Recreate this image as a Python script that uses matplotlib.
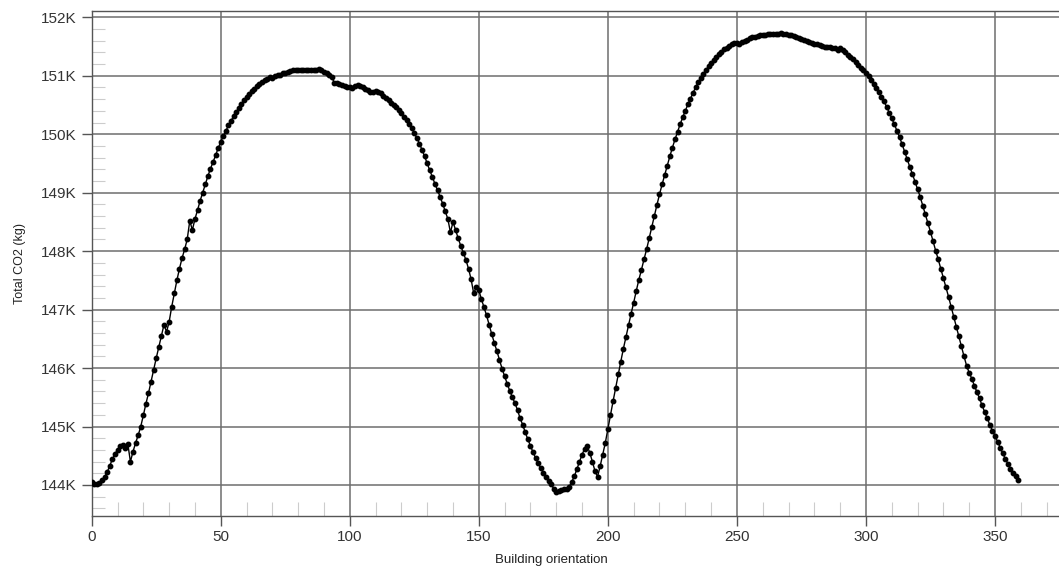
import matplotlib
matplotlib.use("Agg")
import matplotlib.pyplot as plt
from matplotlib.ticker import MultipleLocator, FuncFormatter

plt.rcParams['font.family'] = ['Liberation Sans', 'DejaVu Sans']

# building orientation in degrees, one run per degree
orientation = list(range(0, 360))

# total CO2 in thousands of kg
co2_k = [
    144.05, 144.02, 144.02, 144.04, 144.08, 144.14, 144.22, 144.33, 144.44, 144.53,
    144.60, 144.66, 144.69, 144.64, 144.70, 144.40, 144.57, 144.72, 144.85, 145.00,
    145.19, 145.39, 145.57, 145.77, 145.97, 146.17, 146.36, 146.55, 146.74, 146.62,
    146.79, 147.05, 147.28, 147.50, 147.70, 147.88, 148.03, 148.20, 148.52, 148.36,
    148.55, 148.70, 148.86, 149.00, 149.14, 149.28, 149.41, 149.52, 149.64, 149.76,
    149.87, 149.97, 150.06, 150.15, 150.23, 150.31, 150.38, 150.45, 150.52, 150.58,
    150.64, 150.69, 150.74, 150.78, 150.82, 150.86, 150.89, 150.92, 150.95, 150.98,
    150.97, 151.00, 151.01, 151.02, 151.04, 151.05, 151.06, 151.08, 151.09, 151.10,
    151.10, 151.09, 151.10, 151.10, 151.09, 151.10, 151.09, 151.10, 151.11, 151.09,
    151.06, 151.05, 151.02, 150.98, 150.88, 150.88, 150.86, 150.85, 150.83, 150.81,
    150.80, 150.79, 150.82, 150.85, 150.82, 150.80, 150.78, 150.76, 150.73, 150.72,
    150.74, 150.73, 150.70, 150.66, 150.62, 150.58, 150.54, 150.50, 150.46, 150.41,
    150.36, 150.30, 150.24, 150.17, 150.10, 150.02, 149.93, 149.84, 149.73, 149.62,
    149.50, 149.38, 149.27, 149.15, 149.04, 148.93, 148.81, 148.68, 148.55, 148.32,
    148.50, 148.36, 148.22, 148.09, 147.97, 147.85, 147.70, 147.52, 147.28, 147.38,
    147.33, 147.18, 147.04, 146.90, 146.74, 146.58, 146.43, 146.29, 146.14, 145.99,
    145.86, 145.73, 145.61, 145.50, 145.40, 145.28, 145.14, 145.03, 144.90, 144.78,
    144.67, 144.56, 144.46, 144.37, 144.29, 144.21, 144.13, 144.07, 144.01, 143.94,
    143.88, 143.89, 143.91, 143.93, 143.94, 143.97, 144.05, 144.15, 144.27, 144.40,
    144.52, 144.62, 144.67, 144.55, 144.40, 144.24, 144.14, 144.32, 144.52, 144.72,
    144.96, 145.20, 145.43, 145.66, 145.89, 146.11, 146.33, 146.53, 146.73, 146.93,
    147.12, 147.32, 147.51, 147.68, 147.86, 148.03, 148.22, 148.41, 148.60, 148.79,
    148.97, 149.14, 149.30, 149.46, 149.62, 149.77, 149.91, 150.04, 150.17, 150.29,
    150.40, 150.51, 150.61, 150.71, 150.80, 150.89, 150.96, 151.03, 151.10, 151.16,
    151.22, 151.27, 151.32, 151.37, 151.41, 151.45, 151.48, 151.51, 151.54, 151.56,
    151.56, 151.54, 151.57, 151.60, 151.62, 151.64, 151.66, 151.67, 151.68, 151.69,
    151.70, 151.70, 151.71, 151.71, 151.72, 151.71, 151.72, 151.73, 151.72, 151.71,
    151.70, 151.70, 151.68, 151.66, 151.64, 151.63, 151.61, 151.59, 151.57, 151.56,
    151.55, 151.54, 151.52, 151.51, 151.50, 151.50, 151.49, 151.48, 151.47, 151.44,
    151.47, 151.44, 151.40, 151.36, 151.32, 151.28, 151.24, 151.19, 151.14, 151.09,
    151.04, 150.99, 150.93, 150.86, 150.79, 150.72, 150.64, 150.56, 150.47, 150.37,
    150.27, 150.17, 150.06, 149.95, 149.83, 149.70, 149.57, 149.44, 149.32, 149.19,
    149.06, 148.93, 148.78, 148.63, 148.48, 148.33, 148.17, 148.01, 147.86, 147.70,
    147.54, 147.38, 147.22, 147.05, 146.88, 146.71, 146.54, 146.37, 146.20, 146.04,
    145.92, 145.82, 145.70, 145.59, 145.48, 145.36, 145.25, 145.14, 145.03, 144.93,
    144.84, 144.74, 144.64, 144.54, 144.45, 144.36, 144.28, 144.21, 144.15, 144.09,
]
co2_kg = [v * 1000 for v in co2_k]

fig = plt.figure(figsize=(10.59, 5.68), dpi=100)
ax = fig.add_axes([0.0866, 0.0921, 0.9134, 0.8891])

ax.plot(orientation, co2_kg, color='black', linewidth=1.0,
        marker='o', markersize=3.2, markerfacecolor='black',
        markeredgecolor='black', zorder=3)

ax.set_xlim(0, 374.8)
ax.set_ylim(143475, 152113)

ax.xaxis.set_major_locator(MultipleLocator(50))
ax.xaxis.set_minor_locator(MultipleLocator(10))
ax.yaxis.set_major_locator(MultipleLocator(1000))
ax.yaxis.set_minor_locator(MultipleLocator(200))
ax.yaxis.set_major_formatter(FuncFormatter(lambda v, p: f"{int(round(v / 1000))}K"))

ax.grid(True, which='major', color='#6e6e6e', linewidth=1.1)
ax.set_axisbelow(True)

ax.tick_params(axis='both', which='major', direction='out', length=7,
               width=1, color='#555555', labelsize=11, labelcolor='#333333')
ax.tick_params(axis='x', which='major', pad=3)
ax.tick_params(axis='y', which='major', pad=4)
ax.tick_params(axis='x', which='minor', direction='in', length=10,
               width=0.8, color='#cccccc')
ax.tick_params(axis='y', which='minor', direction='in', length=9,
               width=0.8, color='#cccccc')

for side in ['left', 'bottom', 'top']:
    ax.spines[side].set_color('#555555')
    ax.spines[side].set_linewidth(1.0)
ax.spines['right'].set_visible(False)

ax.set_ylabel("Total CO2 (kg)", fontsize=9, color='#222222')
ax.set_xlabel("Building orientation", fontsize=9.5, color='#222222')
ax.yaxis.set_label_coords(-0.068, 0.5)
ax.xaxis.set_label_coords(0.475, -0.076)

fig.savefig("out.png", dpi=100)
